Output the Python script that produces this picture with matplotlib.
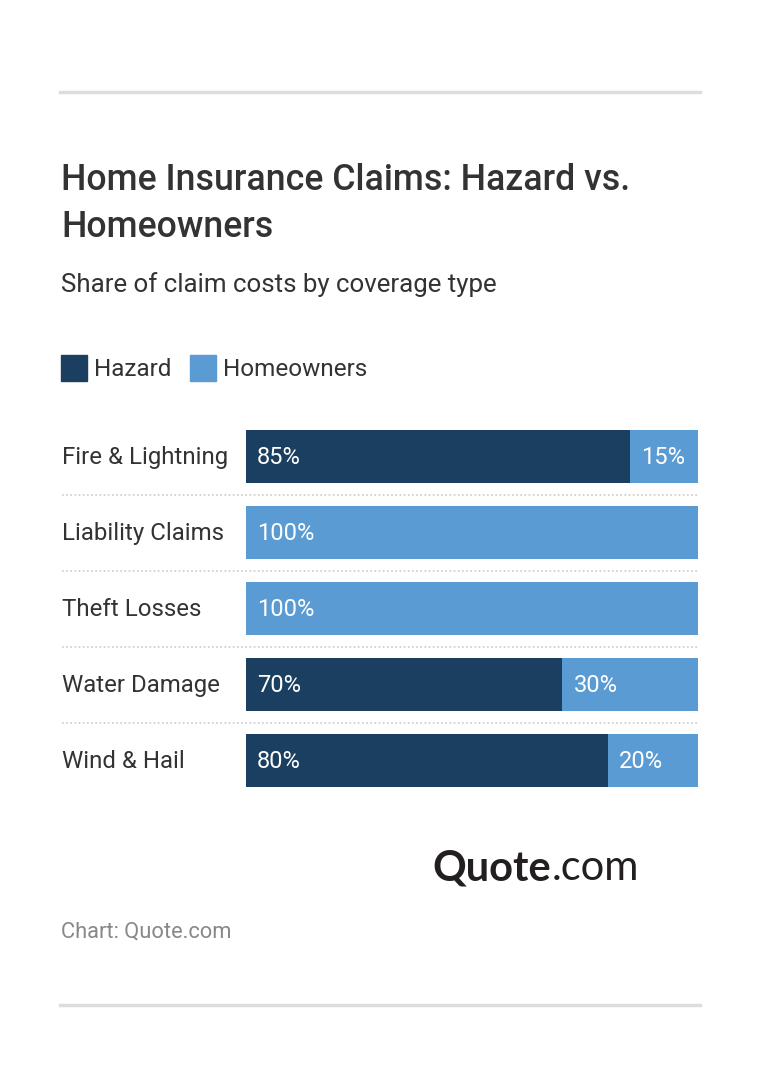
import matplotlib.pyplot as plt
from matplotlib.patches import Rectangle
from matplotlib.lines import Line2D

plt.rcParams['font.family'] = ['Roboto', 'DejaVu Sans']

categories = ['Fire & Lightning', 'Liability Claims', 'Theft Losses', 'Water Damage', 'Wind & Hail']
hazard = [85, 0, 0, 70, 80]
homeowners = [15, 100, 100, 30, 20]
series_names = ['Hazard', 'Homeowners']
colors = ['#1b3f60', '#5b9bd3']

W, H = 760, 1086
fig = plt.figure(figsize=(W / 100, H / 100), dpi=100)


def fx(px):
    return px / W


def fy(py):
    return 1 - py / H


# rules top and bottom
for y in (92, 1005):
    fig.add_artist(Line2D([fx(60), fx(700)], [fy(y), fy(y)], color='#dddddd', lw=2.5))

fig.text(fx(61), fy(190), 'Home Insurance Claims: Hazard vs.', fontsize=25.7,
         fontweight='medium', color='#333333', va='baseline')
fig.text(fx(61), fy(237), 'Homeowners', fontsize=25.7,
         fontweight='medium', color='#333333', va='baseline')
fig.text(fx(61), fy(292), 'Share of claim costs by coverage type', fontsize=18.6,
         color='#333333', va='baseline')

# legend
lx = [61, 190]
for i, name in enumerate(series_names):
    fig.add_artist(Rectangle((fx(lx[i]), fy(381)), fx(26), 26 / H, color=colors[i]))
    fig.text(fx(lx[i] + 33), fy(369.5), name, fontsize=17.5, color='#333333', va='center')

# bars
top, bottom = 418.5, 798.5
ax = fig.add_axes([fx(246), fy(bottom), fx(698 - 246), (bottom - top) / H])
ypos = list(range(len(categories)))
ax.barh(ypos, hazard, height=0.7, color=colors[0])
ax.barh(ypos, homeowners, left=hazard, height=0.7, color=colors[1])
ax.set_xlim(0, 100)
ax.set_ylim(len(categories) - 0.5, -0.5)
ax.axis('off')

pad = 11 / 452 * 100
dy = 1 / 76
for i, cat in enumerate(categories):
    ax.text(-184 / 452, i + dy, cat, transform=ax.get_yaxis_transform(), fontsize=17.3,
            color='#333333', va='center', ha='left')
    if hazard[i] > 0:
        ax.text(pad, i + dy, f'{hazard[i]}%', fontsize=17, color='white', va='center')
    if homeowners[i] > 0:
        ax.text(hazard[i] + pad, i + dy, f'{homeowners[i]}%', fontsize=17, color='white', va='center')
    if i < len(categories) - 1:
        ax.plot([-184 / 452, 1], [i + 0.5, i + 0.5], transform=ax.get_yaxis_transform(),
                clip_on=False, color='#cccccc', lw=1.2, ls=(0, (1, 1.5)))

# logo
t = fig.text(fx(432), fy(880), 'Quote', fontsize=30, fontweight='bold', color='#231f20',
             family='Lato', va='baseline')
fig.canvas.draw()
bb = t.get_window_extent()
fig.text(bb.x1 / W + fx(1), fy(880), '.com', fontsize=30, color='#231f20',
         family='Lato', va='baseline')

fig.text(fx(61), fy(938), 'Chart: Quote.com', fontsize=15.75, color='#888888', va='baseline')

fig.savefig('out.png', dpi=100)
